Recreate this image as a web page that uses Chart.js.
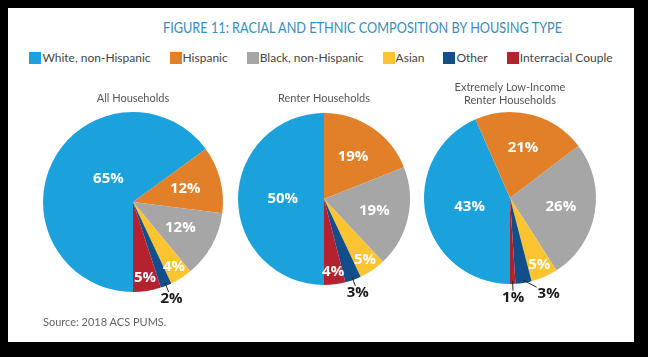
<!DOCTYPE html>
<html><head><meta charset="utf-8">
<script src="https://cdn.jsdelivr.net/npm/chart.js@4"></script>
<style>
html,body{margin:0;padding:0;background:#000;width:648px;height:357px;overflow:hidden;font-family:Lato,"Open Sans",sans-serif;}
#panel{position:absolute;left:8px;top:8px;width:626px;height:334px;background:#fff;}
#title{position:absolute;top:20px;left:163px;white-space:nowrap;font-size:15px;line-height:15px;color:#3a8dba;transform-origin:0 0;}
#legend{position:absolute;top:51px;left:8px;width:626px;display:flex;justify-content:center;gap:19px;font-size:12px;line-height:14px;color:#444;}
#legend .it{display:flex;align-items:center;}
#legend .sw{width:12px;height:12px;margin-right:1px;}
#source{position:absolute;left:43px;top:315px;font-size:11px;line-height:14px;color:#666;}
canvas{position:absolute;}
</style></head>
<body>
<div id="panel"></div>
<div id="title">FIGURE 11: RACIAL AND ETHNIC COMPOSITION BY HOUSING TYPE</div>
<div id="legend"></div>
<canvas id="c1" width="220" height="240" style="left:23px;top:80px"></canvas>
<canvas id="c2" width="212" height="240" style="left:218px;top:80px"></canvas>
<canvas id="c3" width="212" height="240" style="left:404px;top:78px"></canvas>
<div id="source">Source: 2018 ACS PUMS.</div>
<script>
const categories = ['White, non-Hispanic','Hispanic','Black, non-Hispanic','Asian','Other','Interracial Couple'];
const colors = ['#1ba1dc','#e2802a','#a6a6a6','#fcc431','#114e8a','#b42230'];
const chartTitles = [['All Households'],['Renter Households'],['Extremely Low-Income','Renter Households']];
const allHouseholds = [65,12,12,4,2,5];
const renterHouseholds = [50,19,19,5,3,4];
const eliRenterHouseholds = [43,21,26,5,3,1];

// legend
const lg = document.getElementById('legend');
categories.forEach((c,i)=>{
  const it=document.createElement('div'); it.className='it';
  const sw=document.createElement('div'); sw.className='sw'; sw.style.background=colors[i];
  const t=document.createElement('span'); t.textContent=c;
  it.appendChild(sw); it.appendChild(t); lg.appendChild(it);
});
// title width fit
const tt=document.getElementById('title');
tt.style.transform='scaleX('+(399/tt.scrollWidth)+')';

const sliceLabels = {
  id:'sliceLabels',
  afterDatasetsDraw(chart, args, opts){
    const ctx=chart.ctx; const meta=chart.getDatasetMeta(0); const data=chart.data.datasets[0].data;
    const ov = opts.overrides||{};
    ctx.save();
    ctx.font='bold 15px "Open Sans", sans-serif';
    ctx.textAlign='center'; ctx.textBaseline='middle';
    meta.data.forEach((arc,i)=>{
      const v=data[i];
      const p=arc.getProps(['x','y','startAngle','endAngle','outerRadius'],true);
      const mid=(p.startAngle+p.endAngle)/2;
      const o=ov[i]||{};
      const outside=v<=3;
      const f=o.fraction!==undefined?o.fraction:(outside?1.16:(v<=6?0.85:(v>=40?0.48:0.6)));
      const ang=o.angle!==undefined?(o.angle-90)*Math.PI/180:mid;
      const lx=p.x+Math.cos(ang)*p.outerRadius*f, ly=p.y+Math.sin(ang)*p.outerRadius*f;
      const txt=v+'%';
      if(outside){
        const ex=p.x+Math.cos(mid)*(p.outerRadius-3), ey=p.y+Math.sin(mid)*(p.outerRadius-3);
        const dx=ex-lx, dy=ey-ly;
        const hw=ctx.measureText(txt).width/2+1, hh=7;
        const t=Math.min(hw/Math.max(Math.abs(dx),1e-6), hh/Math.max(Math.abs(dy),1e-6));
        ctx.strokeStyle='#222'; ctx.lineWidth=1;
        ctx.beginPath(); ctx.moveTo(ex,ey); ctx.lineTo(lx+dx*t, ly+dy*t); ctx.stroke();
        ctx.fillStyle='#1a1a1a';
      } else ctx.fillStyle='#ffffff';
      ctx.fillText(txt,lx,ly);
    });
    ctx.restore();
  }
};

function makePie(id, values, title, padding, titlePad, overrides){
  new Chart(document.getElementById(id),{
    type:'pie',
    data:{labels:categories,datasets:[{data:values,backgroundColor:colors,borderWidth:0,hoverOffset:0}]},
    options:{
      responsive:false, animation:false, devicePixelRatio:1, rotation:180,
      layout:{padding:padding},
      events:[],
      plugins:{
        legend:{display:false}, tooltip:{enabled:false},
        title:{display:true,text:title,color:'#555',font:{family:'Lato',size:11,weight:'normal',lineHeight:1.2},padding:titlePad},
        sliceLabels:{overrides:overrides}
      }
    },
    plugins:[sliceLabels]
  });
}
makePie('c1', allHouseholds, chartTitles[0], {left:20,right:20,top:0,bottom:28}, {top:12,bottom:6.8}, {0:{angle:314,fraction:0.38}});
makePie('c2', renterHouseholds, chartTitles[1], {left:20,right:20,top:0,bottom:35}, {top:12,bottom:7.8}, {});
makePie('c3', eliRenterHouseholds, chartTitles[2], {left:20,right:20,top:0,bottom:34}, {top:2.4,bottom:5.2}, {4:{angle:158,fraction:1.2}});
</script>
</body></html>
